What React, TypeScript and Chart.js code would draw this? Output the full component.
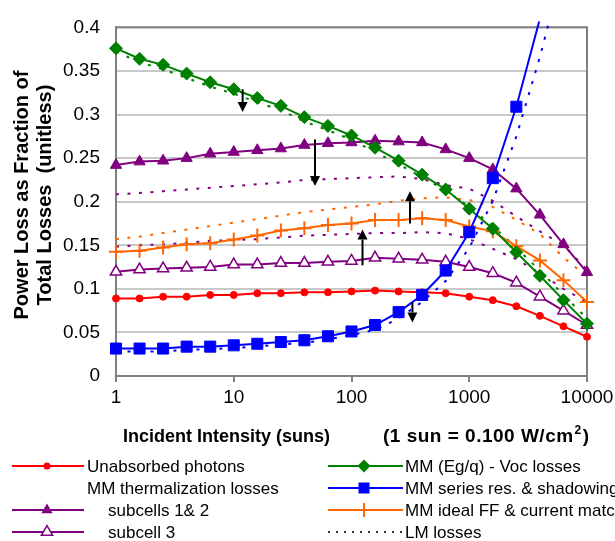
import React, { useEffect, useRef } from 'react';
import { Chart, registerables } from 'chart.js';

Chart.register(...registerables);

// ---- data ----
const intensities = [1, 1.585, 2.512, 3.981, 6.31, 10, 15.85, 25.12, 39.81, 63.1, 100, 158.5, 251.2, 398.1, 631, 1000, 1585, 2512, 3981, 6310, 10000, 15850];

const unabsorbedPhotons = [0.089, 0.089, 0.091, 0.091, 0.093, 0.093, 0.095, 0.095, 0.096, 0.096, 0.097, 0.098, 0.097, 0.096, 0.095, 0.091, 0.087, 0.080, 0.069, 0.057, 0.045, 0.032];
const thermSubcells12 = [0.242, 0.246, 0.247, 0.250, 0.255, 0.257, 0.259, 0.261, 0.265, 0.267, 0.268, 0.270, 0.269, 0.268, 0.260, 0.250, 0.237, 0.215, 0.185, 0.151, 0.119, 0.085];
const thermSubcell3 = [0.1196, 0.1222, 0.1233, 0.1241, 0.1252, 0.1278, 0.1278, 0.1296, 0.1296, 0.131, 0.132, 0.1356, 0.1344, 0.1333, 0.131, 0.125, 0.118, 0.107, 0.091, 0.075, 0.0585, 0.042];
const egVocLosses = [0.376, 0.364, 0.357, 0.347, 0.337, 0.329, 0.319, 0.310, 0.297, 0.287, 0.276, 0.262, 0.247, 0.231, 0.214, 0.192, 0.169, 0.142, 0.115, 0.087, 0.060, 0.032];
const seriesResShadowing = [0.0315, 0.0315, 0.0315, 0.0337, 0.0337, 0.0352, 0.037, 0.039, 0.041, 0.0456, 0.0511, 0.0585, 0.0733, 0.093, 0.121, 0.165, 0.227, 0.309, 0.41, null, null, null];
const idealFFCurrentMatch = [0.1426, 0.1437, 0.1474, 0.1511, 0.1522, 0.1567, 0.1611, 0.167, 0.1696, 0.1733, 0.175, 0.179, 0.179, 0.181, 0.179, 0.1715, 0.166, 0.149, 0.1326, 0.110, 0.085, 0.060];

const lmThermSubcells12 = [0.2085, 0.210, 0.212, 0.214, 0.216, 0.218, 0.220, 0.222, 0.225, 0.226, 0.227, 0.228, 0.229, 0.226, 0.219, 0.215, 0.201, 0.183, 0.166, 0.150, 0.122, 0.090];
const lmThermSubcell3 = [0.1485, 0.150, 0.151, 0.153, 0.155, 0.156, 0.157, 0.159, 0.161, 0.162, 0.163, 0.164, 0.164, 0.165, 0.164, 0.157, 0.146, 0.134, 0.118, 0.100, 0.085, 0.065];
const lmIdealFF = [0.157, 0.160, 0.164, 0.168, 0.172, 0.176, 0.180, 0.184, 0.188, 0.191, 0.194, 0.197, 0.201, 0.204, 0.205, 0.202, 0.194, 0.179, 0.163, 0.136, 0.114, 0.090];
const lmEgVoc = [0.372, 0.360, 0.352, 0.342, 0.332, 0.324, 0.314, 0.305, 0.292, 0.282, 0.271, 0.257, 0.243, 0.228, 0.213, 0.194, 0.172, 0.147, 0.121, 0.093, 0.066, 0.038];
const lmSeriesRes = [0.028, 0.028, 0.028, 0.030, 0.031, 0.032, 0.034, 0.036, 0.038, 0.042, 0.047, 0.053, 0.066, 0.085, 0.109, 0.147, 0.201, 0.275, 0.366, 0.470, null, null];

const xTickValues = [1, 10, 100, 1000, 10000];
const xTickLabels = ['1', '10', '100', '1000', '10000'];
const yTickValues = [0, 0.05, 0.1, 0.15, 0.2, 0.25, 0.3, 0.35, 0.4];
const yTickLabels = ['0', '0.05', '0.1', '0.15', '0.2', '0.25', '0.3', '0.35', '0.4'];

// LM -> MM change arrows (intensity, from value, to value)
const arrowIntensity = [11.9, 49, 124, 314, 329];
const arrowFrom = [0.329, 0.2715, 0.127, 0.175, 0.0844];
const arrowTo = [0.303, 0.218, 0.168, 0.212, 0.0615];

const legendLabels = [
  'Unabsorbed photons',
  'MM thermalization losses',
  'subcells 1& 2',
  'subcell 3',
  'MM (Eg/q) - Voc losses',
  'MM series res. & shadowing',
  'MM ideal FF & current match',
  'LM losses',
];
const xTitleMain = 'Incident Intensity (suns)';
const xTitleUnit = '(1 sun = 0.100 W/cm';
const xTitleSup = '2';
const xTitleEnd = ')';
const yTitleLines = ['Power Loss as Fraction of', 'Total Losses  (unitless)'];

// ---- styling ----
const FONT = "'Liberation Sans', Arial, sans-serif";
const RED = '#ff0000';
const PURPLE = '#800080';
const GREEN = '#008000';
const BLUE = '#0000ff';
const ORANGE = '#ff6600';
const CLIP = { left: 10, top: 6, right: 9, bottom: 10 };

function pts(vals: (number | null)[]) {
  return vals.map((v, i) => ({ x: intensities[i], y: v }));
}
function radii(vals: (number | null)[], r: number) {
  return vals.map((v, i) => (i < 21 && v != null && v <= 0.4 ? r : 0));
}

function mmSet(label: string, vals: (number | null)[], color: string, style: string, r: number, fill: string, order: number) {
  return {
    label,
    data: pts(vals),
    borderColor: color,
    backgroundColor: fill,
    borderWidth: 2,
    pointStyle: style,
    pointRadius: radii(vals, r),
    pointBackgroundColor: fill,
    pointBorderColor: color,
    pointBorderWidth: style === 'cross' ? 2 : style === 'triangle' && fill === '#ffffff' ? 1.5 : 1,
    tension: 0,
    clip: CLIP,
    order,
    spanGaps: false,
  };
}
function lmSet(label: string, vals: (number | null)[], color: string) {
  return {
    label,
    data: pts(vals),
    borderColor: color,
    borderWidth: 2,
    borderDash: [3, 8.5],
    pointRadius: 0,
    tension: 0,
    clip: CLIP,
    order: 20,
  };
}

function drawMarker(ctx: CanvasRenderingContext2D, type: string, x: number, y: number, color: string) {
  ctx.save();
  ctx.fillStyle = color;
  ctx.strokeStyle = color;
  ctx.setLineDash([]);
  ctx.beginPath();
  if (type === 'circle') {
    ctx.arc(x, y, 3.5, 0, Math.PI * 2);
    ctx.fill();
  } else if (type === 'triangle' || type === 'openTriangle') {
    const r = 6.5;
    ctx.moveTo(x, y - r);
    ctx.lineTo(x + r * 0.866, y + r * 0.5);
    ctx.lineTo(x - r * 0.866, y + r * 0.5);
    ctx.closePath();
    if (type === 'triangle') ctx.fill();
    else {
      ctx.fillStyle = '#ffffff';
      ctx.fill();
      ctx.lineWidth = 1.5;
      ctx.stroke();
    }
  } else if (type === 'diamond') {
    const r = 6.5;
    ctx.moveTo(x, y - r);
    ctx.lineTo(x + r, y);
    ctx.lineTo(x, y + r);
    ctx.lineTo(x - r, y);
    ctx.closePath();
    ctx.fill();
  } else if (type === 'square') {
    ctx.rect(x - 5.5, y - 5.5, 11, 11);
    ctx.fill();
  } else if (type === 'cross') {
    ctx.lineWidth = 2;
    ctx.moveTo(x, y - 7);
    ctx.lineTo(x, y + 7);
    ctx.stroke();
  }
  ctx.restore();
}

const decorPlugin = {
  id: 'decor',
  beforeDatasetsDraw(chart: any) {
    const { ctx, chartArea: a } = chart;
    ctx.save();
    ctx.strokeStyle = '#808080';
    ctx.lineWidth = 2;
    ctx.strokeRect(a.left, a.top, a.right - a.left, a.bottom - a.top);
    ctx.restore();
  },
  afterDatasetsDraw(chart: any) {
    const { ctx } = chart;
    const xs = chart.scales.x;
    const ys = chart.scales.y;
    ctx.save();
    ctx.strokeStyle = '#000';
    ctx.fillStyle = '#000';
    ctx.lineWidth = 2;
    arrowIntensity.forEach((iv, k) => {
      const x = xs.getPixelForValue(iv);
      const y0 = ys.getPixelForValue(arrowFrom[k]);
      const y1 = ys.getPixelForValue(arrowTo[k]);
      const dir = y1 > y0 ? 1 : -1;
      const headLen = 10;
      const headHalf = 5;
      ctx.beginPath();
      ctx.moveTo(x, y0);
      ctx.lineTo(x, y1 - dir * headLen);
      ctx.stroke();
      ctx.beginPath();
      ctx.moveTo(x, y1);
      ctx.lineTo(x - headHalf, y1 - dir * headLen);
      ctx.lineTo(x + headHalf, y1 - dir * headLen);
      ctx.closePath();
      ctx.fill();
    });
    ctx.restore();
  },
  afterDraw(chart: any) {
    const { ctx } = chart;
    ctx.save();
    ctx.fillStyle = '#000';
    // y title
    ctx.font = `bold 20px ${FONT}`;
    ctx.textAlign = 'center';
    ctx.textBaseline = 'middle';
    const yc = 195;
    [22, 45].forEach((xp, i) => {
      ctx.save();
      ctx.translate(xp, yc);
      ctx.rotate(-Math.PI / 2);
      ctx.fillText(yTitleLines[i], 0, 0);
      ctx.restore();
    });
    // x title
    ctx.font = `bold 18px ${FONT}`;
    ctx.textAlign = 'left';
    ctx.fillText(xTitleMain, 123, 437);
    let xp = 383;
    ctx.font = `bold 19px ${FONT}`;
    (ctx as any).letterSpacing = '0.5px';
    ctx.fillText(xTitleUnit, xp, 437);
    xp += ctx.measureText(xTitleUnit).width;
    ctx.font = `bold 12px ${FONT}`;
    ctx.fillText(xTitleSup, xp + 1, 431);
    xp += ctx.measureText(xTitleSup).width + 2;
    ctx.font = `bold 19px ${FONT}`;
    ctx.fillText(xTitleEnd, xp, 437);
    (ctx as any).letterSpacing = '0px';

    // legend
    const rows = [466, 488, 510, 532];
    const items = [
      { col: 0, row: 0, color: RED, marker: 'circle', textX: 87, line: true },
      { col: 0, row: 1, color: null, marker: null, textX: 87, line: false },
      { col: 0, row: 2, color: PURPLE, marker: 'triangle', textX: 108, line: true },
      { col: 0, row: 3, color: PURPLE, marker: 'openTriangle', textX: 108, line: true },
      { col: 1, row: 0, color: GREEN, marker: 'diamond', textX: 405, line: true },
      { col: 1, row: 1, color: BLUE, marker: 'square', textX: 405, line: true },
      { col: 1, row: 2, color: ORANGE, marker: 'cross', textX: 405, line: true },
      { col: 1, row: 3, color: '#333333', marker: null, textX: 405, line: true, dash: true },
    ];
    ctx.font = `17px ${FONT}`;
    ctx.textBaseline = 'middle';
    items.forEach((it: any, i) => {
      const y = rows[it.row];
      const x1 = it.col === 0 ? 12 : 328;
      const x2 = it.col === 0 ? 84 : 403;
      const mx = it.col === 0 ? 47 : 364;
      if (it.line) {
        ctx.save();
        ctx.strokeStyle = it.color;
        ctx.lineWidth = 2;
        if (it.dash) ctx.setLineDash([2, 6]);
        ctx.beginPath();
        ctx.moveTo(x1, y);
        ctx.lineTo(x2, y);
        ctx.stroke();
        ctx.restore();
      }
      if (it.marker) drawMarker(ctx, it.marker, mx, y, it.color);
      ctx.fillStyle = '#000';
      ctx.fillText(legendLabels[i], it.textX, y + 1);
    });
    ctx.restore();
  },
};

export default function App() {
  const ref = useRef<HTMLCanvasElement | null>(null);
  useEffect(() => {
    if (!ref.current) return;
    const chart = new Chart(ref.current, {
      type: 'line',
      data: {
        datasets: [
          mmSet('Unabsorbed photons', unabsorbedPhotons, RED, 'circle', 3.5, RED, 6),
          mmSet('subcells 1& 2', thermSubcells12, PURPLE, 'triangle', 6.5, PURPLE, 5),
          mmSet('subcell 3', thermSubcell3, PURPLE, 'triangle', 6.5, '#ffffff', 4),
          mmSet('MM ideal FF & current match', idealFFCurrentMatch, ORANGE, 'cross', 7, ORANGE, 3),
          mmSet('MM (Eg/q) - Voc losses', egVocLosses, GREEN, 'rectRot', 6.5, GREEN, 2),
          mmSet('MM series res. & shadowing', seriesResShadowing, BLUE, 'rect', 7.8, BLUE, 1),
          lmSet('LM subcells 1&2', lmThermSubcells12, PURPLE),
          lmSet('LM subcell 3', lmThermSubcell3, PURPLE),
          lmSet('LM ideal FF', lmIdealFF, ORANGE),
          lmSet('LM Eg/q - Voc', lmEgVoc, GREEN),
          lmSet('LM series res.', lmSeriesRes, BLUE),
        ] as any,
      },
      options: {
        animation: false,
        responsive: false,
        devicePixelRatio: 1,
        events: [],
        layout: { padding: { left: 0, top: 16, right: 28, bottom: 125 } },
        plugins: { legend: { display: false }, tooltip: { enabled: false } },
        scales: {
          x: {
            type: 'logarithmic',
            min: 1,
            max: 10000,
            afterBuildTicks: (s: any) => {
              s.ticks = xTickValues.map((v) => ({ value: v }));
            },
            afterFit: (s: any) => {
              s.height = 40;
              s.paddingLeft = 0;
              s.paddingRight = 0;
            },
            ticks: {
              callback: (_v: any, i: number) => xTickLabels[i],
              font: { family: FONT, size: 19 },
              color: '#000',
              padding: 4,
              maxRotation: 0,
              autoSkip: false,
            },
            grid: { drawOnChartArea: false, drawTicks: true, tickLength: 6, color: '#808080', lineWidth: 2 },
            border: { display: true, color: '#808080', width: 2 },
          },
          y: {
            min: 0,
            max: 0.4,
            afterBuildTicks: (s: any) => {
              s.ticks = yTickValues.map((v) => ({ value: v }));
            },
            afterFit: (s: any) => {
              s.width = 116;
            },
            ticks: {
              callback: (_v: any, i: number) => yTickLabels[i],
              font: { family: FONT, size: 19 },
              color: '#000',
              padding: 16,
            },
            grid: { color: '#c8c8c8', lineWidth: 2, drawTicks: false },
            border: { display: true, color: '#808080', width: 2 },
          },
        },
      } as any,
      plugins: [decorPlugin],
    });
    return () => chart.destroy();
  }, []);
  return (
    <div style={{ position: 'absolute', left: 0, top: 0, width: 615, height: 541, background: '#fff' }}>
      <canvas ref={ref} width={615} height={541} style={{ display: 'block' }} />
    </div>
  );
}
